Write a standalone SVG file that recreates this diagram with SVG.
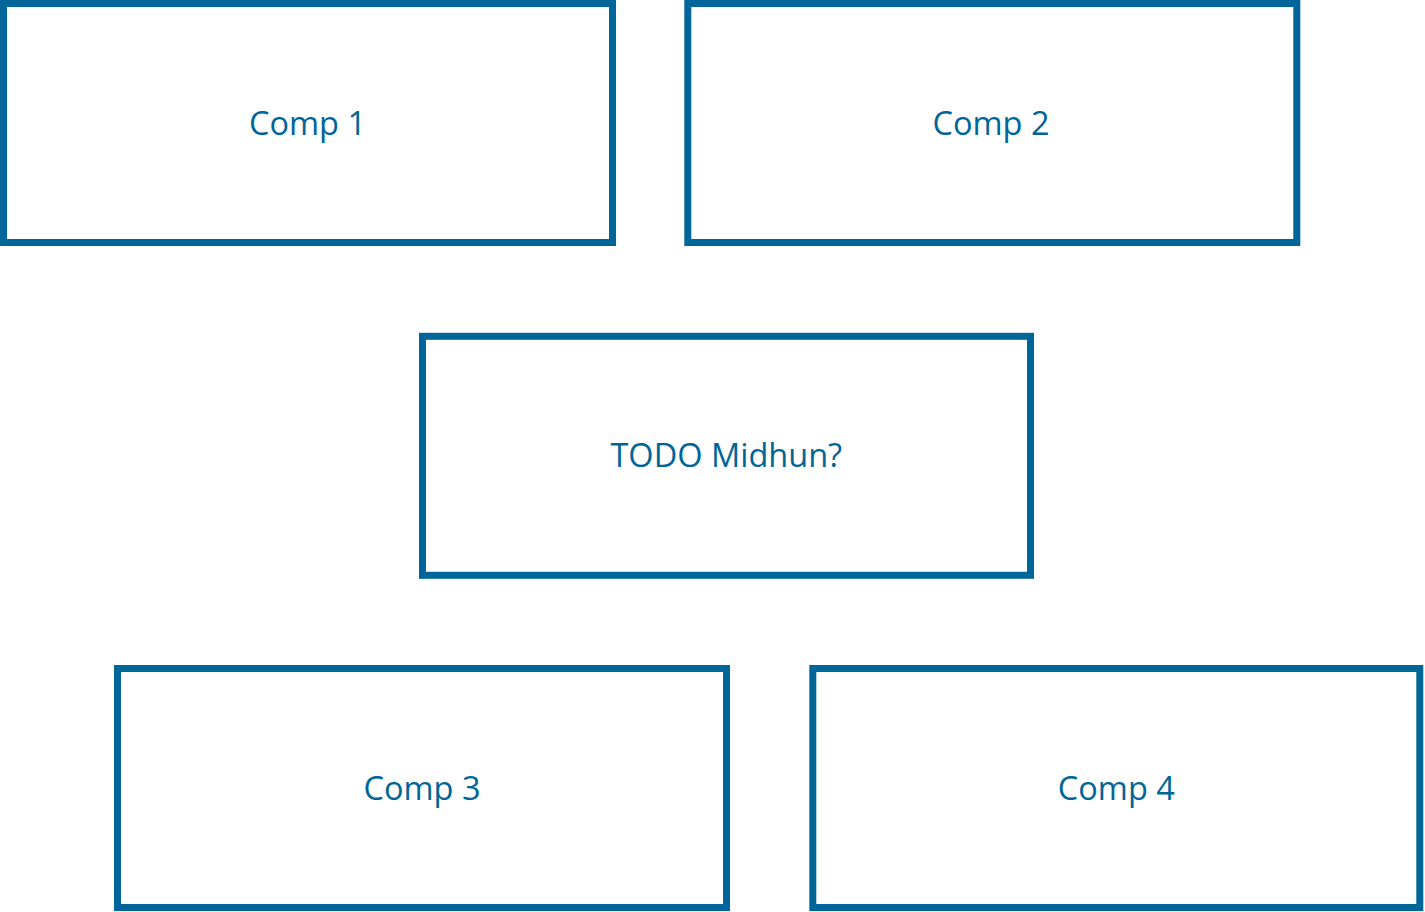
<svg xmlns="http://www.w3.org/2000/svg" width="1425" height="912" viewBox="0 0 1425 912">
<style>
.box{fill:#ffffff;stroke:#006699;stroke-width:7}
.lbl{font-family:"Open Sans","Noto Sans","DejaVu Sans",sans-serif;font-size:32.5px;fill:#006699;text-anchor:middle}
</style>
<rect width="1425" height="912" fill="#ffffff"/>
<g id="connectors"></g>
<g id="comp1"><rect class="box" x="3.5" y="3.5" width="609" height="239"/><text class="lbl" x="307.5" y="135">Comp 1</text></g>
<g id="comp2"><rect class="box" x="687.8" y="3.5" width="609" height="239"/><text class="lbl" x="991" y="135">Comp 2</text></g>
<g id="todo"><rect class="box" x="422.5" y="336.3" width="608" height="239"/><text class="lbl" x="726.3" y="467">TODO Midhun?</text></g>
<g id="comp3"><rect class="box" x="117.5" y="668.5" width="609" height="239"/><text class="lbl" x="422" y="800">Comp 3</text></g>
<g id="comp4"><rect class="box" x="812.8" y="668.5" width="607" height="239"/><text class="lbl" x="1116.3" y="800">Comp 4</text></g>
</svg>
